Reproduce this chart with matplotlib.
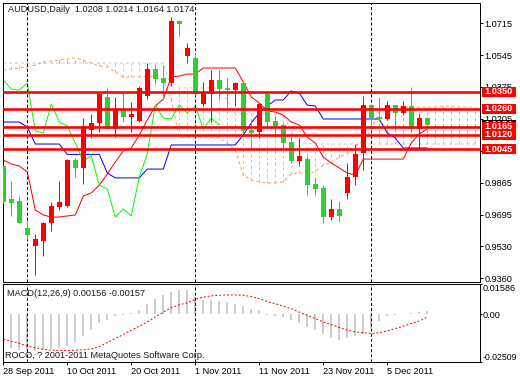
import numpy as np
import matplotlib
matplotlib.use("Agg")
import matplotlib.pyplot as plt
from matplotlib.patches import Rectangle

plt.rcParams['font.family'] = ['Liberation Sans', 'DejaVu Sans']
plt.rcParams['lines.scale_dashes'] = False

# ---------------- data ----------------
symbol = "AUDUSD,Daily"
date_labels = ["28 Sep 2011", "10 Oct 2011", "20 Oct 2011", "1 Nov 2011",
               "11 Nov 2011", "23 Nov 2011", "5 Dec 2011"]
date_pos = [0, 8, 16, 24, 32, 40, 48]
month_sep = [3, 24, 46]

opens = [0.9955, 0.9780, 0.9769, 0.9626, 0.9530, 0.9557, 0.9652, 0.9737, 0.9743, 0.9987,
         0.9945, 1.0147, 1.0184, 1.0322, 1.0152, 1.0258, 1.0216, 1.0194, 1.0327, 1.0471,
         1.0423, 1.0396, 1.0726, 1.0540, 1.0529, 1.0285, 1.0338, 1.0412, 1.0370, 1.0359,
         1.0396, 1.0147, 1.0136, 1.0338, 1.0194, 1.0173, 1.0083, 0.9982, 0.9992, 0.9860,
         0.9838, 0.9684, 0.9727, 0.9812, 0.9897, 1.0024, 1.0279, 1.0216, 1.0205, 1.0279,
         1.0237, 1.0274, 1.0152, 1.0208]
highs = [0.9960, 0.9876, 0.9796, 0.9668, 0.9594, 0.9658, 0.9764, 0.9876, 0.9990, 0.9998,
         1.0210, 1.0232, 1.0343, 1.0370, 1.0322, 1.0343, 1.0295, 1.0380, 1.0503, 1.0492,
         1.0492, 1.0747, 1.0731, 1.0609, 1.0556, 1.0402, 1.0465, 1.0465, 1.0423, 1.0402,
         1.0412, 1.0205, 1.0290, 1.0340, 1.0221, 1.0184, 1.0115, 1.0104, 1.0008, 0.9897,
         0.9854, 0.9780, 0.9769, 0.9971, 1.0072, 1.0327, 1.0282, 1.0322, 1.0301, 1.0282,
         1.0301, 1.0375, 1.0232, 1.0214]
lows = [0.9758, 0.9690, 0.9650, 0.9567, 0.9376, 0.9477, 0.9610, 0.9722, 0.9740, 0.9897,
        0.9860, 1.0104, 1.0136, 1.0150, 1.0109, 1.0194, 1.0136, 1.0190, 1.0311, 1.0391,
        1.0306, 1.0380, 1.0646, 1.0503, 1.0335, 1.0274, 1.0189, 1.0311, 1.0269, 1.0274,
        1.0131, 1.0040, 1.0104, 1.0157, 1.0109, 1.0051, 0.9971, 0.9955, 0.9801, 0.9801,
        0.9652, 0.9668, 0.9658, 0.9780, 0.9854, 0.9934, 1.0141, 1.0194, 1.0200, 1.0147,
        1.0232, 1.0136, 1.0046, 1.0164]
closes = [0.9764, 0.9759, 0.9652, 0.9589, 0.9567, 0.9652, 0.9743, 0.9764, 0.9987, 0.9945,
          1.0168, 1.0184, 1.0338, 1.0152, 1.0258, 1.0216, 1.0232, 1.0370, 1.0471, 1.0418,
          1.0396, 1.0726, 1.0710, 1.0582, 1.0338, 1.0343, 1.0412, 1.0364, 1.0359, 1.0396,
          1.0141, 1.0131, 1.0285, 1.0189, 1.0168, 1.0077, 0.9982, 1.0008, 0.9854, 0.9833,
          0.9684, 0.9727, 0.9690, 0.9897, 1.0019, 1.0279, 1.0210, 1.0205, 1.0279, 1.0237,
          1.0274, 1.0152, 1.0210, 1.0174]

tenkan = [0.9987, 0.9966, 0.9955, 0.9923, 0.9721, 0.9695, 0.9684, 0.9684, 0.9690, 0.9695,
          0.9796, 0.9812, 0.9854, 0.9913, 0.9976, 1.0035, 1.0051, 1.0120, 1.0200, 1.0274,
          1.0310, 1.0428, 1.0433, 1.0444, 1.0444, 1.0476, 1.0476, 1.0476, 1.0476, 1.0476,
          1.0402, 1.0322, 1.0290, 1.0248, 1.0242, 1.0226, 1.0189, 1.0173, 1.0109, 1.0077,
          1.0003, 0.9971, 0.9945, 0.9918, 0.9907, 0.9992, 0.9992, 0.9992, 0.9992, 0.9992,
          0.9992, 1.0077, 1.0125, 1.0152]
kijun = [1.0189, 1.0189, 1.0189, 1.0162, 1.0072, 1.0072, 1.0072, 1.0072, 1.0017, 1.0017,
         1.0017, 1.0017, 1.0017, 0.9918, 0.9892, 0.9892, 0.9892, 0.9892, 0.9939, 0.9939,
         0.9939, 1.0067, 1.0067, 1.0067, 1.0067, 1.0067, 1.0067, 1.0067, 1.0067, 1.0067,
         1.0120, 1.0184, 1.0237, 1.0274, 1.0306, 1.0306, 1.0354, 1.0343, 1.0279, 1.0274,
         1.0205, 1.0205, 1.0205, 1.0205, 1.0205, 1.0205, 1.0205, 1.0205, 1.0131, 1.0104,
         1.0051, 1.0051, 1.0051, 1.0051]
span_a = [1.0465, 1.0471, 1.0476, 1.0481, 1.0492, 1.0508, 1.0513, 1.0518, 1.0524, 1.0529,
          1.0518, 1.0502, 1.0487, 1.0481, 1.0455, 1.0428, 1.0428, 1.0428, 1.0433, 1.0428,
          1.0412, 1.0306, 1.0109, 1.0109, 1.0109, 1.0109, 1.0109, 1.0104, 1.0077, 1.0040,
          0.9908, 0.9881, 0.9870, 0.9865, 0.9865, 0.9870, 0.9913, 0.9918, 0.9918, 0.9923,
          0.9961, 0.9971, 1.0003, 1.0019, 1.0056, 1.0093, 1.0147, 1.0242, 1.0269, 1.0269,
          1.0269, 1.0269, 1.0269, 1.0269, 1.0269, 1.0274, 1.0274, 1.0269, 1.0269, 1.0269]
span_b = [1.0502] * 21 + [1.0370] * 7 + [1.0306] + [1.0232] * 7 + [1.0136] + \
         [1.0077] * 2 + [1.0072] * 21
chikou_shift = 26

levels = [1.0350, 1.0260, 1.0165, 1.0120, 1.0045]
price_ticks = [1.0715, 1.0545, 1.0375, 1.0205, 1.0035, 0.9865, 0.9695, 0.9530, 0.9360]

macd = [-0.0176, -0.0181, -0.0190, -0.0190, -0.0195, -0.0190, -0.0186, -0.0181, -0.0169, -0.0146,
        -0.0117, -0.0085, -0.0047, -0.0029, -0.0012, -0.0007, 0.0005, 0.0023, 0.0054, 0.0080,
        0.0098, 0.0115, 0.0127, 0.0129, 0.0089, 0.0075, 0.0075, 0.0068, 0.0063, 0.0054,
        0.0040, 0.0028, 0.0019, -0.0005, -0.0008, -0.0016, -0.0033, -0.0047, -0.0068, -0.0082,
        -0.0106, -0.0129, -0.0137, -0.0129, -0.0117, -0.0103, -0.0075, -0.0037, -0.0012, -0.0007,
        -0.0002, 0.0005, 0.0009, 0.00156]
signal = [-0.0134, -0.0143, -0.0155, -0.0169, -0.0179, -0.0186, -0.0191, -0.0193, -0.0193, -0.0191,
          -0.0190, -0.0184, -0.0172, -0.0151, -0.0130, -0.0108, -0.0085, -0.0064, -0.0042, -0.0016,
          0.0010, 0.0033, 0.0049, 0.0059, 0.0078, 0.0089, 0.0096, 0.0099, 0.0101, 0.0101,
          0.0099, 0.0092, 0.0082, 0.0066, 0.0054, 0.0042, 0.0028, 0.0010, -0.0007, -0.0024,
          -0.0042, -0.0056, -0.0071, -0.0085, -0.0094, -0.0099, -0.0103, -0.0099, -0.0089, -0.0077,
          -0.0064, -0.0050, -0.0037, -0.00157]
macd_max, macd_min = 0.01586, -0.02509

# ---------------- layout ----------------
W, H = 520, 380
PX = 100.0 / 72.0  # pixels per point


def rect(x0, y0, x1, y1):
    return [x0 / W, 1 - y1 / H, (x1 - x0) / W, (y1 - y0) / H]


fig = plt.figure(figsize=(W / 100, H / 100), dpi=100)
fig.patch.set_facecolor('white')
ax = fig.add_axes(rect(3, 3, 480, 281.5))
ax2 = fig.add_axes(rect(3, 284, 480, 361.5))

XMIN, XMAX = -0.04, 59.6
ax.set_xlim(XMIN, XMAX)
ax.set_ylim(0.93416, 1.08213)
ax2.set_xlim(XMIN, XMAX)
ax2.set_ylim(macd_min, macd_max)

for a in (ax, ax2):
    for s in a.spines.values():
        s.set_linewidth(1 / PX)
        s.set_color('black')
    a.set_facecolor('white')

lw1 = 1 / PX
fs = 6.6

# cloud
n_cloud = len(span_a)
xc = np.arange(n_cloud)
sa = np.array(span_a)
sb = np.array(span_b)
dash = (0, (2.2, 2.0))
cols = ['#F4A460' if a > b else '#D8BFD8' for a, b in zip(sa, sb)]
ax.vlines(xc, np.minimum(sa, sb), np.maximum(sa, sb), colors=cols, linewidth=lw1,
          linestyles=[dash] * n_cloud, zorder=1)
ax.plot(xc, sb, color='#D8BFD8', lw=lw1, ls=dash, zorder=1.2)
ax.plot(xc, sa, color='#F4A460', lw=lw1, ls=dash, zorder=1.3)

# candles
n = len(closes)
x = np.arange(n)
o = np.array(opens); h = np.array(highs); l = np.array(lows); c = np.array(closes)
up = c >= o
ccol = np.where(up, '#FF0000', '#32CD32')
# indicator lines
ax.plot(x, tenkan, color='#FF0000', lw=lw1, zorder=2)
ax.plot(x, kijun, color='#0000FF', lw=lw1, zorder=2)
ax.plot(x[:n - chikou_shift], c[chikou_shift:], color='#00FF00', lw=lw1, zorder=2)

ax.vlines(x, l, h, colors=ccol, linewidth=lw1, zorder=3)
body_lo = np.minimum(o, c)
body_h = np.maximum(np.abs(c - o), 0.0005)
ax.bar(x, body_h, bottom=body_lo, width=0.62, color=ccol, linewidth=0, zorder=3.5)

# separators
for a in (ax, ax2):
    for s in month_sep:
        a.axvline(s, color='black', lw=lw1, ls=(0, (2.2, 1.5)), zorder=2.5)

# horizontal levels
for lv in levels:
    ax.axhline(lv, color='#FF0000', lw=2.6 / PX, zorder=4)

# price axis
ax.set_xticks([])
ax.yaxis.tick_right()
ax.set_yticks(price_ticks)
ax.set_yticklabels([f"{v:.4f}" for v in price_ticks])
ax.tick_params(axis='y', direction='out', length=3 / PX, width=lw1, pad=1.2,
               labelsize=fs, colors='black')

# right-side price labels
ytr = ax.get_yaxis_transform()
ppx = (ax.get_ylim()[1] - ax.get_ylim()[0]) / (281.5 - 3)
hh = 5 * ppx
bx0 = (481.5 - 3) / 477
bw = (516 - 481.5) / 477
tx = (484 - 3) / 477


def price_label(val, fc, z):
    ax.add_patch(Rectangle((bx0, val - hh), bw, 2 * hh, transform=ytr, facecolor=fc,
                           edgecolor='none', clip_on=False, zorder=z))
    ax.text(tx, val, f"{val:.4f}", transform=ytr, color='white', fontsize=fs,
            fontweight='bold', va='center', ha='left', clip_on=False, zorder=z + 0.1)


price_label(closes[-1], 'black', 10)
for k, lv in enumerate(levels):
    price_label(lv, '#FF0000', 11 + k)

# MACD
ax2.vlines(x, 0, macd, colors='#C0C0C0', linewidth=1.6 / PX, zorder=2)
ax2.plot(x, signal, color='#FF0000', lw=lw1, ls=(0, (1.4, 1.4)), zorder=3)
ax2.yaxis.tick_right()
mt = [macd_max, 0.0, macd_min]
ax2.set_yticks(mt)
ax2.set_yticklabels(["0.01586", "0.00", "-0.02509"])
ax2.tick_params(axis='y', direction='out', length=2 / PX, width=lw1, pad=0.6,
                labelsize=fs, colors='black')
tl = ax2.get_yticklabels()
tl[0].set_va('top')
tl[2].set_va('bottom')
tl[2].set_fontsize(6.3)
ax2.set_xticks(date_pos)
ax2.set_xticklabels(date_labels, ha='left')
ax2.tick_params(axis='x', direction='out', length=3 / PX, width=lw1, pad=1.5,
                labelsize=fs, colors='black')

# texts
fig.text(8 / W, 1 - 10 / H,
         f"{symbol}  {opens[-1]:.4f} {highs[-1]:.4f} {lows[-1]:.4f} {closes[-1]:.4f}",
         fontsize=fs, va='center', ha='left', color='#1a1a1a')
fig.text(7 / W, 1 - 294 / H, f"MACD(12,26,9) {macd[-1]:.5f} {signal[-1]:.5f}",
         fontsize=fs, va='center', ha='left', color='#1a1a1a')
fig.text(5 / W, 1 - 355 / H, "ROCO, ? 2001-2011 MetaQuotes Software Corp.",
         fontsize=fs, va='center', ha='left', color='#1a1a1a')

fig.savefig("out.png", dpi=100, facecolor='white')
